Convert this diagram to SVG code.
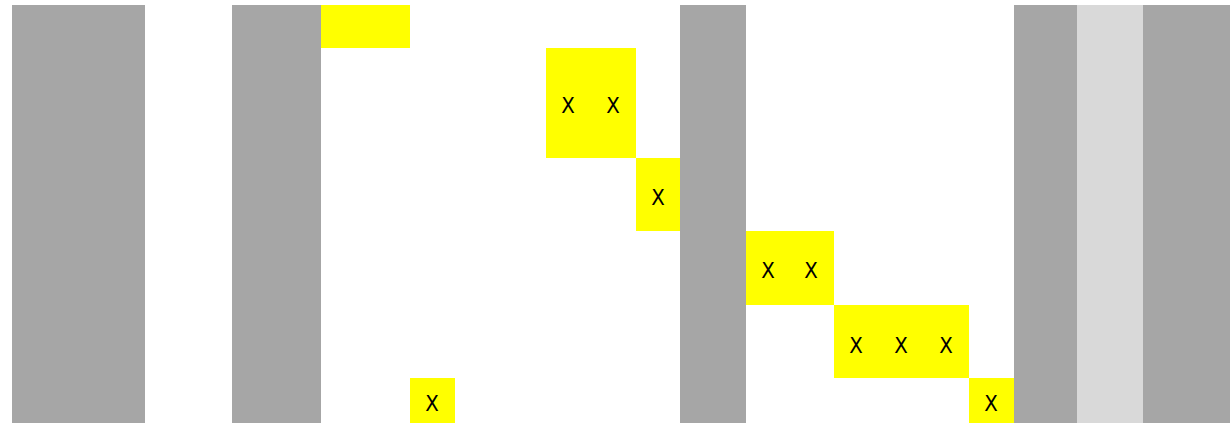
<svg xmlns="http://www.w3.org/2000/svg" width="1230" height="424" viewBox="0 0 1230 424">
<style>
.g{fill:#a6a6a6}
.l{fill:#d9d9d9}
.y{fill:#ffff00}
.t{font-family:"DejaVu Sans Condensed","DejaVu Sans",sans-serif;font-stretch:condensed;font-size:22px;fill:#000;text-anchor:middle;dominant-baseline:central}
</style>
<rect width="1230" height="424" fill="#fff"/>
<g id="col1"><rect class="g" x="12" y="5" width="133" height="418"/></g>
<g id="col2"><rect class="g" x="232" y="5" width="89" height="418"/></g>
<g id="col3"><rect class="g" x="680" y="5" width="66" height="418"/></g>
<g id="col4"><rect class="g" x="1014" y="5" width="63" height="418"/></g>
<g id="col5"><rect class="l" x="1077" y="5" width="66" height="418"/></g>
<g id="col6"><rect class="g" x="1143" y="5" width="87" height="418"/></g>
<g id="c1"><rect class="y" x="321" y="5" width="89" height="43"/></g>
<g id="c2"><rect class="y" x="546" y="48" width="90" height="110"/><text class="t" x="568" y="105">X</text><text class="t" x="613" y="105">X</text></g>
<g id="c3"><rect class="y" x="636" y="158" width="44" height="73"/><text class="t" x="658" y="197">X</text></g>
<g id="c4"><rect class="y" x="746" y="231" width="88" height="74"/><text class="t" x="768" y="270">X</text><text class="t" x="811" y="270">X</text></g>
<g id="c5"><rect class="y" x="834" y="305" width="135" height="73"/><text class="t" x="856" y="345">X</text><text class="t" x="901" y="345">X</text><text class="t" x="946" y="345">X</text></g>
<g id="c6"><rect class="y" x="969" y="378" width="45" height="45"/><text class="t" x="991" y="403">X</text></g>
<g id="c7"><rect class="y" x="410" y="378" width="45" height="45"/><text class="t" x="432" y="403">X</text></g>
<g id="connectors"></g>
</svg>
